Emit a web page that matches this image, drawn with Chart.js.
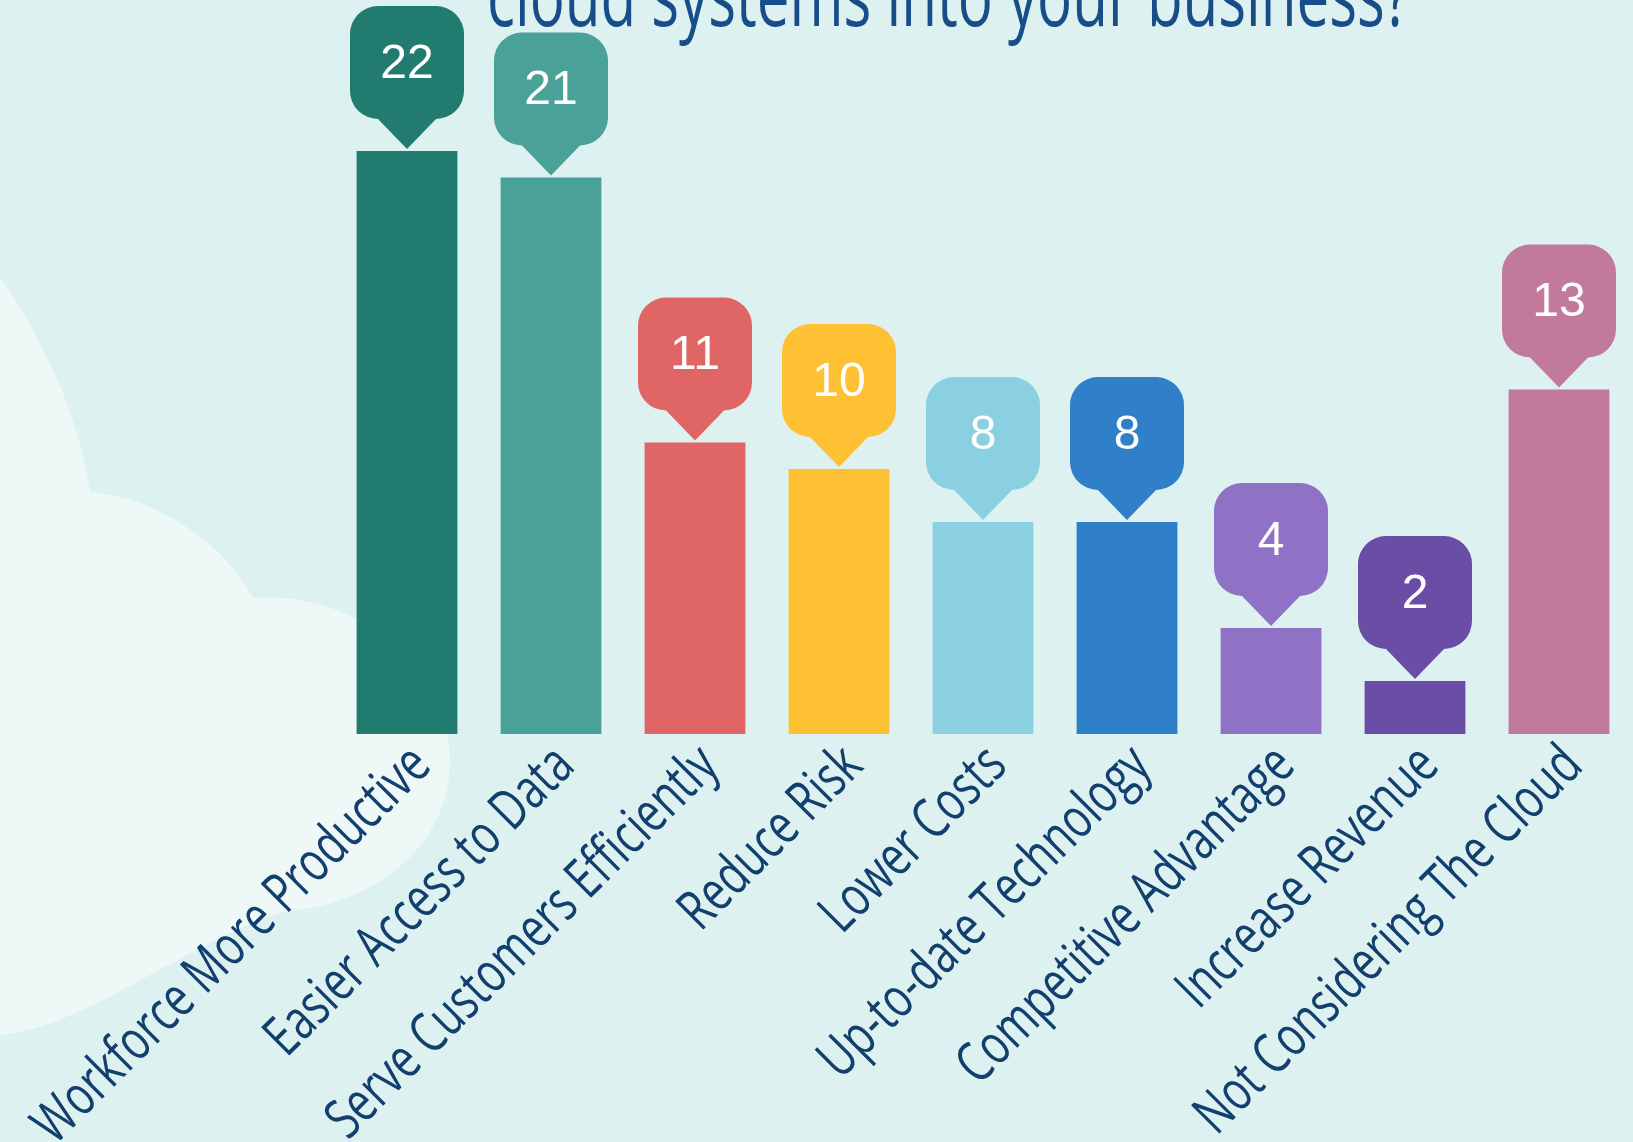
<!DOCTYPE html>
<html>
<head>
<meta charset="utf-8">
<script src="https://cdn.jsdelivr.net/npm/chart.js@4.4.1/dist/chart.umd.min.js"></script>
<style>
html,body{margin:0;padding:0;background:#ddf1f0;}
#wrap{width:1633px;height:1142px;overflow:hidden;}
</style>
</head>
<body>
<div id="wrap"><canvas id="chart" width="1633" height="1142"></canvas></div>
<script>
// data
const categories = ["Workforce More Productive","Easier Access to Data","Serve Customers Efficiently","Reduce Risk","Lower Costs","Up-to-date Technology","Competitive Advantage","Increase Revenue","Not Considering The Cloud"];
const values = [22,21,11,10,8,8,4,2,13];
const barColors = ["#217b6f","#4aa198","#e06666","#fec133","#8bd0e1","#2f7fc9","#8f72c6","#6a4ea6","#c17a9c"];
const titleText = "cloud systems into your business?";

const BG = "#ddf1f0", CLOUD = "#eef8f7", INK = "#123f6d";

// background, cloud shape and clipped title line
const backdrop = {
  id:"backdrop",
  beforeDraw(chart){
    const ctx = chart.ctx;
    ctx.save();
    ctx.fillStyle = BG;
    ctx.fillRect(0,0,chart.width,chart.height);
    ctx.fillStyle = CLOUD;
    ctx.beginPath();
    ctx.moveTo(0,277);
    ctx.bezierCurveTo(40,335,78,410,90,492);
    ctx.bezierCurveTo(160,498,225,545,253,598);
    ctx.bezierCurveTo(370,590,450,680,450,760);
    ctx.bezierCurveTo(450,850,370,905,283,912);
    ctx.bezierCurveTo(200,935,80,1030,0,1035);
    ctx.closePath();
    ctx.fill();

    // title: only its lower part shows, the top edge cuts the rest
    ctx.font = "500 84px 'Open Sans','Liberation Sans',sans-serif";
    ctx.fillStyle = "#174d89";
    ctx.textBaseline = "alphabetic";
    const w = ctx.measureText(titleText).width;
    ctx.translate(487,26);
    ctx.scale(923/w,1);
    ctx.fillText(titleText,0,0);
    ctx.restore();
  }
};

// value callouts above each bar
const callouts = {
  id:"callouts",
  afterDatasetsDraw(chart){
    const ctx = chart.ctx;
    const meta = chart.getDatasetMeta(0);
    const w = 114, h = 113, r = 28, ph = 30;
    meta.data.forEach((bar,i)=>{
      const cx = bar.x, tip = bar.y - 2;
      const bottom = tip - ph, top = bottom - h;
      const left = cx - w/2, right = cx + w/2;
      ctx.save();
      ctx.fillStyle = barColors[i];
      ctx.beginPath();
      ctx.moveTo(cx, top);
      ctx.arcTo(right, top, right, bottom, r);
      ctx.arcTo(right, bottom, cx, bottom, r);
      ctx.lineTo(cx, tip);
      ctx.lineTo(left + r, bottom);
      ctx.arcTo(left, bottom, left, top, r);
      ctx.arcTo(left, top, cx, top, r);
      ctx.closePath();
      ctx.fill();
      ctx.fillStyle = "#ffffff";
      ctx.font = "48px 'Liberation Sans',Arial,sans-serif";
      ctx.textAlign = "center";
      ctx.textBaseline = "middle";
      ctx.fillText(String(values[i]), cx, top + h/2 + 2);
      ctx.restore();
    });
  }
};

// slanted, condensed category labels under the bars
const slantLabels = {
  id:"slantLabels",
  afterDraw(chart){
    const ctx = chart.ctx, xs = chart.scales.x;
    ctx.save();
    ctx.font = "500 56px 'Open Sans','Liberation Sans',sans-serif";
    const k = 535 / ctx.measureText(categories[0]).width;
    ctx.fillStyle = INK;
    ctx.textAlign = "right";
    ctx.textBaseline = "alphabetic";
    xs.ticks.forEach((t,i)=>{
      const x = xs.getPixelForTick(i) + 26, y = xs.top + 34;
      ctx.save();
      ctx.translate(x,y);
      ctx.rotate(-45*Math.PI/180);
      ctx.scale(k,1);
      ctx.fillText(categories[i],0,0);
      ctx.restore();
    });
    ctx.restore();
  }
};

new Chart(document.getElementById("chart"),{
  type:"bar",
  data:{
    labels:categories,
    datasets:[{data:values,backgroundColor:barColors,borderWidth:0,barPercentage:0.7,categoryPercentage:1.0}]
  },
  options:{
    responsive:false,
    animation:false,
    devicePixelRatio:1,
    layout:{padding:{left:335,right:2,top:45,bottom:0}},
    plugins:{legend:{display:false},tooltip:{enabled:false},title:{display:false}},
    scales:{
      y:{display:false,min:0,max:26},
      x:{
        grid:{display:false},
        border:{display:false},
        ticks:{display:false,autoSkip:false},
        afterFit(scale){ scale.height = 408; scale.paddingLeft = 0; scale.paddingRight = 0; }
      }
    }
  },
  plugins:[backdrop,callouts,slantLabels]
});
</script>
</body>
</html>
